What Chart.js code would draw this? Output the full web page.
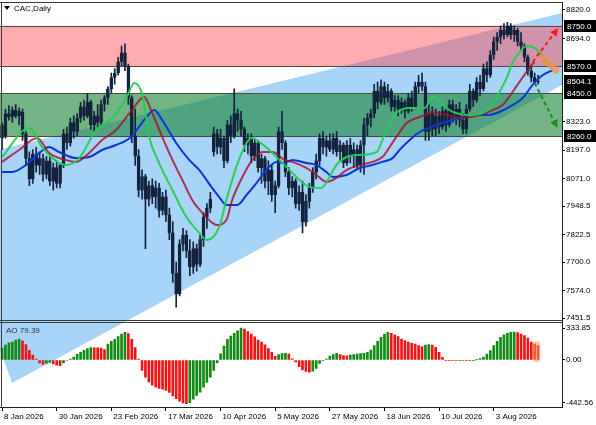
<!DOCTYPE html>
<html>
<head>
<meta charset="utf-8">
<script src="https://cdn.jsdelivr.net/npm/chart.js@4.4.1/dist/chart.umd.min.js"></script>
<style>
    html, body { margin: 0; padding: 0; background: #fff; }
    #chart { display: block; }
</style>
</head>
<body>
<canvas id="chart" width="596" height="425"></canvas>
<script>
// CAC daily, bar 0 = 8 Jan 2026
const dateLabels   = ['8 Jan 2026', '30 Jan 2026', '23 Feb 2026', '17 Mar 2026', '10 Apr 2026', '5 May 2026', '27 May 2026', '18 Jun 2026', '10 Jul 2026', '3 Aug 2026'];
const dateTickBars = [0, 16, 32, 48, 64, 80, 96, 112, 128, 144];
const priceTicks   = [8820, 8694, 8323, 8197, 8071, 7948.5, 7822.5, 7700, 7574, 7451.5];
const aoTicks      = [333.85, 0, -442.56];

const opens = [
    8310, 8260, 8360, 8345, 8375, 8350, 8365, 8270, 8160, 8070,
    8180, 8130, 8160, 8090, 8150, 8060, 8120, 8050, 8130, 8270,
    8230, 8320, 8280, 8340, 8390, 8350, 8410, 8310, 8350, 8320,
    8400, 8430, 8470, 8520, 8540, 8590, 8630, 8570, 8430, 8260,
    8170, 8020, 8080, 7980, 8040, 7990, 8030, 7930, 7990, 7910,
    7830, 7650, 7560, 7780, 7820, 7750, 7680, 7760, 7690, 7800,
    7900, 7940, 8190, 8270, 8210, 8250, 8150, 8310, 8260, 8360,
    8330, 8290, 8220, 8250, 8170, 8230, 8120, 8160, 8060, 8110,
    8000, 8040, 8280, 8230, 8100, 8030, 8060, 7960, 8010, 7880,
    7970, 8030, 8100, 8150, 8250, 8210, 8240, 8200, 8250, 8190,
    8220, 8140, 8220, 8170, 8200, 8130, 8220, 8310, 8340, 8360,
    8460, 8410, 8480, 8430, 8460, 8390, 8420, 8380, 8410, 8370,
    8430, 8390, 8480, 8500, 8480, 8280, 8360, 8290, 8350, 8300,
    8370, 8310, 8400, 8340, 8380, 8330, 8290, 8380, 8460, 8420,
    8500, 8470, 8560, 8530, 8620, 8680, 8700, 8730, 8710, 8750,
    8710, 8730, 8680, 8660, 8610, 8550, 8520, 8500
];
const highs = [
    8320, 8380, 8395, 8390, 8400, 8385, 8380, 8280, 8190, 8200,
    8210, 8190, 8180, 8170, 8170, 8140, 8150, 8140, 8290, 8300,
    8340, 8350, 8360, 8410, 8420, 8450, 8420, 8370, 8400, 8420,
    8440, 8480, 8540, 8560, 8610, 8660, 8670, 8580, 8440, 8380,
    8200, 8110, 8090, 8060, 8070, 8060, 8050, 8010, 8020, 7940,
    7880, 7700, 7800, 7850, 7840, 7800, 7790, 7780, 7820, 7920,
    7960, 8010, 8300, 8290, 8290, 8260, 8330, 8350, 8470, 8380,
    8370, 8300, 8270, 8270, 8250, 8240, 8180, 8170, 8150, 8130,
    8060, 8300, 8370, 8240, 8120, 8080, 8070, 8040, 8060, 8000,
    8050, 8120, 8180, 8270, 8280, 8260, 8270, 8270, 8280, 8240,
    8230, 8240, 8250, 8230, 8220, 8240, 8340, 8360, 8380, 8490,
    8500, 8510, 8500, 8490, 8470, 8440, 8440, 8430, 8420, 8450,
    8460, 8500, 8530, 8540, 8500, 8400, 8390, 8380, 8370, 8390,
    8380, 8420, 8420, 8400, 8410, 8360, 8400, 8490, 8470, 8520,
    8530, 8580, 8590, 8640, 8700, 8720, 8750, 8760, 8765, 8760,
    8750, 8740, 8720, 8670, 8620, 8570, 8540, 8530
];
const lows = [
    8200, 8250, 8330, 8320, 8340, 8310, 8240, 8130, 8040, 8050,
    8100, 8090, 8060, 8070, 8040, 8020, 8030, 8030, 8120, 8200,
    8215, 8250, 8260, 8320, 8330, 8340, 8290, 8280, 8300, 8310,
    8370, 8400, 8450, 8490, 8530, 8570, 8550, 8400, 8230, 8130,
    7990, 7980, 7760, 7950, 7960, 7940, 7900, 7910, 7880, 7800,
    7610, 7500, 7550, 7750, 7720, 7640, 7650, 7660, 7680, 7770,
    7850, 7920, 8170, 8180, 8180, 8120, 8140, 8230, 8250, 8280,
    8260, 8190, 8180, 8140, 8150, 8100, 8050, 8030, 8000, 7970,
    7920, 8030, 8200, 8080, 8000, 7990, 7940, 7930, 7830, 7860,
    7940, 8010, 8070, 8130, 8180, 8170, 8190, 8180, 8170, 8150,
    8120, 8130, 8140, 8120, 8110, 8100, 8090, 8260, 8300, 8340,
    8380, 8400, 8400, 8410, 8370, 8370, 8350, 8360, 8340, 8360,
    8370, 8380, 8450, 8460, 8240, 8240, 8260, 8260, 8270, 8290,
    8280, 8300, 8320, 8310, 8300, 8270, 8270, 8370, 8390, 8410,
    8440, 8460, 8500, 8520, 8600, 8640, 8670, 8690, 8700, 8690,
    8680, 8660, 8640, 8590, 8530, 8500, 8490, 8490
];
const closes = [
    8250, 8360, 8345, 8375, 8350, 8370, 8270, 8160, 8070, 8180,
    8130, 8160, 8090, 8150, 8060, 8120, 8050, 8130, 8270, 8230,
    8320, 8280, 8340, 8390, 8350, 8410, 8310, 8350, 8320, 8400,
    8430, 8470, 8520, 8540, 8590, 8630, 8570, 8430, 8260, 8170,
    8020, 8080, 7980, 8040, 7990, 8030, 7930, 7990, 7910, 7830,
    7650, 7560, 7780, 7820, 7750, 7680, 7760, 7690, 7800, 7900,
    7940, 7980, 8270, 8210, 8250, 8150, 8310, 8260, 8360, 8330,
    8290, 8220, 8250, 8170, 8230, 8120, 8160, 8060, 8110, 8000,
    8040, 8280, 8230, 8100, 8030, 8060, 7960, 8010, 7880, 7970,
    8030, 8100, 8150, 8250, 8210, 8240, 8200, 8250, 8190, 8220,
    8140, 8220, 8170, 8200, 8130, 8220, 8310, 8340, 8360, 8460,
    8410, 8480, 8430, 8460, 8390, 8420, 8380, 8410, 8370, 8430,
    8390, 8480, 8500, 8480, 8280, 8360, 8290, 8350, 8300, 8370,
    8310, 8400, 8340, 8380, 8330, 8290, 8380, 8460, 8420, 8500,
    8470, 8560, 8530, 8620, 8680, 8700, 8730, 8710, 8750, 8710,
    8730, 8680, 8660, 8610, 8550, 8520, 8500, 8504.1
];

// Awesome Oscillator, one value per bar
const aoValues = [
    125, 157, 178, 188, 209, 219, 200, 160, 100, 50,
    10, -30, -45, -35, -25, -40, -55, -60, -30, -5,
    10, 30, 60, 80, 100, 118, 130, 128, 126, 125,
    110, 165, 195, 215, 245, 270, 290, 275, 215, 130,
    10, -110, -180, -230, -262, -285, -296, -305, -318, -340,
    -375, -405, -430, -448, -455, -445, -410, -370, -335, -285,
    -235, -180, -110, -30, 65, 145, 215, 250, 278, 305,
    334, 324, 298, 270, 243, 208, 186, 158, 120, 80,
    38, 56, 66, 70, 62, 12, -20, -70, -104, -120,
    -126, -118, -87, -35, -7, 10, 42, 56, 70, 56,
    45, 44, 52, 56, 63, 68, 70, 80, 104, 150,
    195, 237, 271, 289, 278, 264, 244, 219, 202, 188,
    174, 167, 150, 139, 157, 160, 157, 132, 80, 28,
    -3, -6, -8, -7, -8, -6, -7, -8, -6, 2,
    15, 31, 63, 97, 150, 195, 237, 264, 278, 289,
    292, 286, 271, 254, 230, 188, 167, 150
];

// Alligator-style averages at the bars below
const fastBars = [0, 7.9, 12.3, 18.8, 22.6, 27.6, 32.3, 36.4, 38.7, 41.1, 43.1, 46, 49.9, 54, 57.8, 60.1, 63.6, 65.7, 68.6, 71.6, 73.3, 75.4, 78.3, 81.2, 84.2, 87.1, 90, 93.5, 95.9, 97.9, 100.9, 104.7, 109.7, 111.4, 113.5, 115.8, 119.4, 123.8, 126.1, 129, 132, 137, 140.8, 143.7, 145.7, 147.8, 149.6, 151.6, 153.7, 156, 158, 160.4];
const fastVals = [8167, 8296, 8198, 8131, 8162, 8287, 8340, 8429, 8496, 8442, 8256, 8140, 8020, 7900, 7829, 7798, 7856, 7976, 8122, 8229, 8251, 8233, 8198, 8154, 8109, 8065, 8034, 8029, 8078, 8131, 8167, 8176, 8189, 8242, 8318, 8367, 8385, 8385, 8433, 8398, 8367, 8353, 8362, 8398, 8456, 8518, 8589, 8633, 8660, 8651, 8620, 8571];
const midBars  = [0, 5, 10.3, 13.8, 18.8, 21.7, 25.5, 29.3, 33.4, 38.1, 41.6, 44, 46.9, 49.9, 52.8, 55.7, 58.7, 61.6, 63, 65.7, 67.4, 70.4, 73.3, 76.2, 79.2, 82.7, 85, 89.1, 92.1, 95, 97.9, 100.9, 104.7, 108.5, 111.4, 113.5, 115.5, 118.5, 121.4, 123.8, 126.1, 130.2, 134.9, 139.9, 143.7, 146.6, 148.7, 150.7, 152.8, 154.8, 156];
const midVals  = [8145, 8198, 8251, 8185, 8153, 8145, 8185, 8242, 8287, 8376, 8433, 8362, 8256, 8154, 8065, 7976, 7918, 7874, 7865, 7887, 7976, 8078, 8154, 8189, 8189, 8154, 8145, 8118, 8087, 8056, 8074, 8109, 8131, 8145, 8167, 8211, 8256, 8318, 8340, 8353, 8367, 8353, 8340, 8353, 8376, 8398, 8438, 8482, 8527, 8571, 8589];
const slowBars = [0, 2.9, 7, 10.9, 13.8, 16.7, 21.7, 25.5, 29.3, 33.4, 37.8, 41.6, 44.6, 46.9, 51, 54.8, 57.8, 61.3, 63.6, 65.7, 68.9, 71.6, 74.5, 77.4, 80.4, 82.7, 85, 89.1, 92.1, 95, 96.8, 100.9, 104.7, 108.5, 111.4, 114.4, 116.4, 119.4, 122.3, 127.3, 132, 137, 141.9, 145.7, 149.6, 152.5, 155.4, 158.4, 161.3];
const slowVals = [8100, 8100, 8131, 8185, 8211, 8189, 8162, 8167, 8198, 8220, 8256, 8331, 8376, 8331, 8229, 8154, 8109, 8034, 7989, 7954, 7954, 7998, 8051, 8109, 8145, 8140, 8154, 8140, 8131, 8100, 8078, 8087, 8118, 8131, 8145, 8162, 8198, 8242, 8278, 8309, 8331, 8353, 8353, 8367, 8398, 8429, 8487, 8531, 8553];

// drawn objects, as [bar, price]
const resistanceZone = [8570, 8750];
const supportZone    = [8260, 8450];
const lastPrice      = 8504.1;
const aoReading      = 79.39;
const channelUpper   = [[-0.6, 8200], [164, 8807]];
const channelLower   = [[2.9, 7163], [164, 8487]];
const channelFoot    = [-0.6, 7314];
const upTarget       = [[155.4, 8589], [162.9, 8740]];
const downTarget     = [[156, 8496], [162.7, 8296]];
const lipsTail       = [[158.4, 8607], [162.2, 8553]];

const FONT = '"Liberation Sans", Arial, sans-serif';
Chart.defaults.font.family = FONT;
Chart.defaults.font.size = 8;
Chart.defaults.color = '#000';

const navy = '#14233d';
const bars = closes.map((_, i) => i);

const lineSet = (xs, ys, color) => ({
    type: 'line',
    data: xs.map((x, k) => ({ x, y: ys[k] })),
    borderColor: color,
    borderWidth: 2,
    pointRadius: 0,
    fill: false,
    cubicInterpolationMode: 'monotone',
    yAxisID: 'y',
});

function dashedArrow(ctx, x1, y1, x2, y2, color) {
    const ang = Math.atan2(y2 - y1, x2 - x1);
    const hx = x2 - 8 * Math.cos(ang), hy = y2 - 8 * Math.sin(ang);
    ctx.strokeStyle = color;
    ctx.fillStyle = color;
    ctx.lineWidth = 2;
    ctx.setLineDash([4, 3]);
    ctx.beginPath(); ctx.moveTo(x1, y1); ctx.lineTo(hx, hy); ctx.stroke();
    ctx.setLineDash([]);
    ctx.beginPath();
    ctx.moveTo(x2, y2);
    ctx.lineTo(hx + 4 * Math.sin(ang), hy - 4 * Math.cos(ang));
    ctx.lineTo(hx - 4 * Math.sin(ang), hy + 4 * Math.cos(ang));
    ctx.closePath(); ctx.fill();
}

const overlay = {
    id: 'overlay',
    beforeDatasetsDraw(c) {
        const { ctx, chartArea: a, scales: { x, y } } = c;
        const px = v => x.getPixelForValue(v), py = v => y.getPixelForValue(v);
        ctx.save();
        ctx.beginPath(); ctx.rect(a.left, a.top, a.right - a.left, a.bottom - a.top); ctx.clip();

        // trend channel
        ctx.fillStyle = 'rgb(168,212,248)';
        ctx.beginPath();
        ctx.moveTo(px(channelUpper[0][0]), py(channelUpper[0][1]));
        ctx.lineTo(px(channelUpper[1][0]), py(channelUpper[1][1]));
        ctx.lineTo(px(channelLower[1][0]), py(channelLower[1][1]));
        ctx.lineTo(px(channelLower[0][0]), py(channelLower[0][1]));
        ctx.lineTo(px(channelFoot[0]), py(channelFoot[1]));
        ctx.closePath(); ctx.fill();

        const zone = (z, col) => {
            const t = py(z[1]), b = py(z[0]);
            ctx.fillStyle = col;
            ctx.fillRect(a.left, t, a.right - a.left, b - t);
        };
        zone(resistanceZone, 'rgba(255,70,80,0.45)');
        zone(supportZone, 'rgba(20,130,50,0.6)');

        ctx.strokeStyle = '#4a4a4a';
        ctx.lineWidth = 1;
        [...resistanceZone, ...supportZone].forEach(v => {
            const yy = Math.round(py(v)) + 0.5;
            ctx.beginPath(); ctx.moveTo(a.left, yy); ctx.lineTo(a.right, yy); ctx.stroke();
        });
        ctx.restore();
    },
    afterDatasetsDraw(c) {
        const { ctx, scales: { x, y, ao } } = c;
        const px = v => x.getPixelForValue(v), py = v => y.getPixelForValue(v);
        ctx.save();
        ctx.lineCap = 'round';
        ctx.strokeStyle = 'rgba(242,145,80,0.8)';
        ctx.lineWidth = 7;
        ctx.beginPath();
        ctx.moveTo(px(lipsTail[0][0]), py(lipsTail[0][1]));
        ctx.lineTo(px(lipsTail[1][0]), py(lipsTail[1][1]));
        ctx.stroke();
        ctx.lineCap = 'butt';

        dashedArrow(ctx, px(upTarget[0][0]), py(upTarget[0][1]), px(upTarget[1][0]), py(upTarget[1][1]), '#ff1a1a');
        dashedArrow(ctx, px(downTarget[0][0]), py(downTarget[0][1]), px(downTarget[1][0]), py(downTarget[1][1]), '#1e8c1e');

        // highlight on the last AO bars
        const hx0 = px(155.5), hx1 = px(157.6);
        const hy0 = ao.getPixelForValue(195), hy1 = ao.getPixelForValue(0) + 2;
        ctx.fillStyle = 'rgba(245,150,90,0.55)';
        ctx.beginPath();
        ctx.roundRect(hx0, hy0, hx1 - hx0, hy1 - hy0, 3);
        ctx.fill();
        ctx.restore();
    },
    afterDraw(c) {
        const { ctx, chartArea: a, scales: { y } } = c;
        ctx.save();
        ctx.strokeStyle = '#3c3c3c';
        ctx.lineWidth = 1;
        const hline = yy => { ctx.beginPath(); ctx.moveTo(a.left, yy); ctx.lineTo(a.right, yy); ctx.stroke(); };
        hline(a.top + 0.5);
        hline(Math.floor(y.bottom) - 0.5);
        hline(Math.floor(y.bottom) + 1.5);
        ctx.beginPath(); ctx.moveTo(a.left + 1.5, a.top); ctx.lineTo(a.left + 1.5, a.bottom); ctx.stroke();

        ctx.font = `8px ${FONT}`;
        ctx.textBaseline = 'middle';
        ctx.textAlign = 'left';
        [resistanceZone[1], resistanceZone[0], lastPrice, supportZone[1], supportZone[0]].forEach(v => {
            const yy = Math.round(y.getPixelForValue(v));
            ctx.fillStyle = '#000';
            ctx.fillRect(a.right + 2, yy - 6, 34, 12);
            ctx.fillStyle = '#fff';
            ctx.fillText(v.toFixed(1), a.right + 5, yy + 0.5);
        });

        ctx.fillStyle = '#000';
        ctx.beginPath(); ctx.moveTo(4, 6); ctx.lineTo(10, 6); ctx.lineTo(7, 10); ctx.closePath(); ctx.fill();
        ctx.fillText('CAC,Daily', 14, 8.5);
        ctx.fillStyle = '#333';
        ctx.fillText('AO ' + aoReading.toFixed(2), 6, 331);
        ctx.restore();
    }
};

new Chart(document.getElementById('chart'), {
    type: 'bar',
    data: {
        datasets: [
            lineSet(fastBars, fastVals, 'rgba(35,205,80,0.95)'),
            lineSet(midBars, midVals, 'rgba(170,10,40,0.8)'),
            lineSet(slowBars, slowVals, '#0a36d8'),
            {
                data: bars.map(i => ({ x: i, y: [opens[i], closes[i]] })),
                backgroundColor: bars.map(i => closes[i] >= opens[i] ? 'rgba(0,0,0,0)' : navy),
                borderColor: navy,
                borderWidth: 1,
                borderSkipped: false,
                barThickness: 3,
                minBarLength: 1,
                grouped: false,
                yAxisID: 'y',
            },
            {
                data: bars.map(i => ({ x: i, y: [lows[i], highs[i]] })),
                backgroundColor: navy,
                borderWidth: 0,
                barThickness: 1,
                grouped: false,
                yAxisID: 'y',
            },
            {
                data: bars.map(i => ({ x: i, y: aoValues[i] })),
                backgroundColor: bars.map(i => i > 0 && aoValues[i] < aoValues[i - 1] ? '#f01414' : '#138a13'),
                borderWidth: 0,
                barThickness: 2,
                grouped: false,
                yAxisID: 'ao',
            },
        ]
    },
    options: {
        responsive: false,
        animation: false,
        devicePixelRatio: 1,
        layout: { padding: { top: 2, left: 0, right: 0, bottom: 0 } },
        plugins: { legend: { display: false }, tooltip: { enabled: false } },
        scales: {
            x: {
                type: 'linear',
                min: -0.6,
                max: 164,
                offset: false,
                grid: { drawOnChartArea: false, drawTicks: true, tickLength: 4, color: '#000', offset: false },
                border: { display: true, color: '#222' },
                ticks: {
                    autoSkip: false, maxRotation: 0, minRotation: 0,
                    align: 'start', labelOffset: 2, padding: 1, color: '#000',
                    callback: v => dateLabels[dateTickBars.indexOf(v)] ?? '',
                },
                afterBuildTicks: s => { s.ticks = dateTickBars.map(v => ({ value: v })); },
                afterFit: s => { s.height = 18; s.paddingLeft = 0; s.paddingRight = 0; },
            },
            y: {
                position: 'right',
                stack: 'panes',
                stackWeight: 319.5,
                weight: 1,
                min: 7436,
                max: 8855.5,
                grid: { drawOnChartArea: false, tickLength: 3, color: '#000' },
                border: { display: true, color: '#222' },
                ticks: { autoSkip: false, padding: 1, color: '#000', callback: v => v.toFixed(1) },
                afterBuildTicks: s => { s.ticks = priceTicks.map(v => ({ value: v })); },
                afterFit: s => { s.width = 34; s.paddingTop = 0; s.paddingBottom = 0; },
            },
            ao: {
                position: 'right',
                stack: 'panes',
                stackWeight: 85.5,
                weight: 2,
                min: -491,
                max: 402,
                grid: { drawOnChartArea: false, tickLength: 3, color: '#000' },
                border: { display: true, color: '#222' },
                ticks: { autoSkip: false, padding: 1, color: '#000', callback: v => v.toFixed(2) },
                afterBuildTicks: s => { s.ticks = aoTicks.map(v => ({ value: v })); },
                afterFit: s => { s.width = 34; s.paddingTop = 0; s.paddingBottom = 0; },
            },
        }
    },
    plugins: [overlay]
});
</script>
</body>
</html>
